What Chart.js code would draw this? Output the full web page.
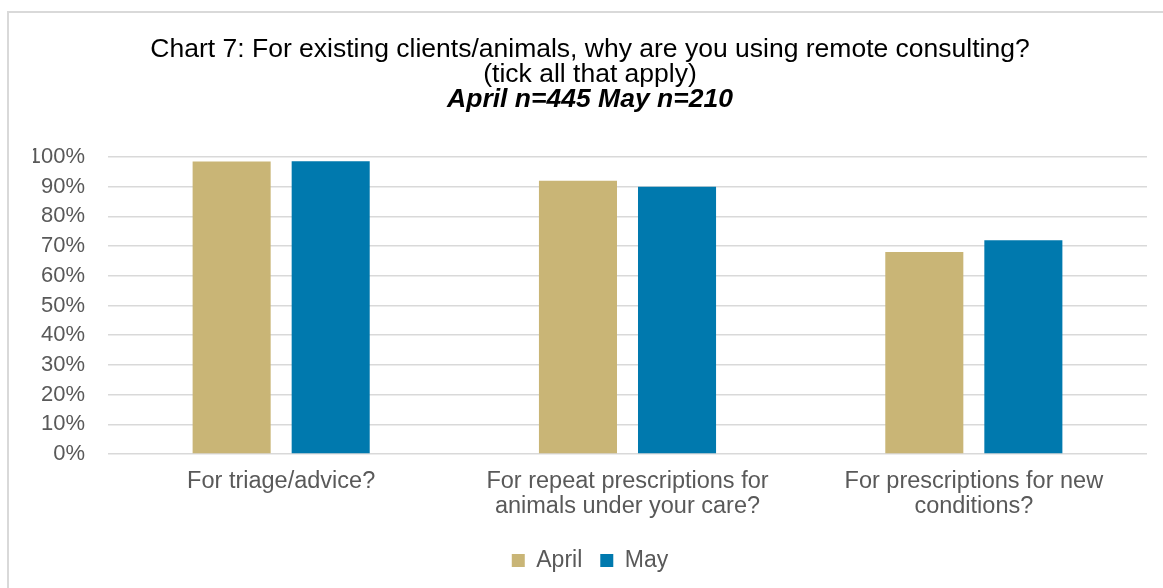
<!DOCTYPE html>
<html>
<head>
<meta charset="utf-8">
<title>Chart 7</title>
<script src="https://cdn.jsdelivr.net/npm/chart.js@4"></script>
<style>
  html, body { margin: 0; padding: 0; background: #fff; overflow: hidden; }
  #frame {
    position: absolute; left: 7px; top: 11px;
    width: 1180px; height: 600px;
    border: 2px solid #d9d9d9; box-sizing: border-box;
  }
  #wrap { position: absolute; left: 0; top: 0; width: 1163px; height: 588px; }
</style>
</head>
<body>
<div id="frame"></div>
<div id="wrap"><canvas id="chart7"></canvas></div>
<script>
const categories = [
  ["For triage/advice?"],
  ["For repeat prescriptions for", "animals under your care?"],
  ["For prescriptions for new", "conditions?"]
];
const aprilValues = [98.5, 92, 68];
const mayValues = [98.6, 90, 72];
const yTicks = [0, 10, 20, 30, 40, 50, 60, 70, 80, 90, 100];

const FONT = "'Liberation Sans', Arial, sans-serif";
const GREY_TEXT = "#595959";

new Chart(document.getElementById("chart7"), {
  type: "bar",
  data: {
    labels: categories,
    datasets: [
      {
        label: "April",
        data: aprilValues,
        backgroundColor: "#c9b576",
        categoryPercentage: 0.572,
        barPercentage: 0.788
      },
      {
        label: "May",
        data: mayValues,
        backgroundColor: "#0079ae",
        categoryPercentage: 0.572,
        barPercentage: 0.788
      }
    ]
  },
  options: {
    responsive: true,
    maintainAspectRatio: false,
    animation: false,
    layout: { padding: { left: 33, right: 16, top: 0, bottom: 6 } },
    plugins: {
      title: {
        display: true,
        text: [
          "Chart 7: For existing clients/animals, why are you using remote consulting?",
          "(tick all that apply)"
        ],
        color: "#000",
        font: { family: FONT, size: 26.5, weight: "normal", lineHeight: 0.943 },
        padding: { top: 37, bottom: 0 }
      },
      subtitle: {
        display: true,
        text: "April n=445 May n=210",
        color: "#000",
        font: { family: FONT, size: 26.5, weight: "bold", style: "italic", lineHeight: 0.943 },
        padding: { top: 0, bottom: 45 }
      },
      legend: {
        position: "bottom",
        labels: {
          color: GREY_TEXT,
          font: { family: FONT, size: 23 },
          boxWidth: 13,
          boxHeight: 13,
          padding: 18
        }
      },
      tooltip: { enabled: false }
    },
    scales: {
      x: {
        grid: { display: false },
        border: { display: false },
        ticks: {
          color: GREY_TEXT,
          font: { family: FONT, size: 23.5, lineHeight: 1.064 },
          padding: 7,
          maxRotation: 0,
          autoSkip: false
        },
        afterFit: (scale) => { scale.height = 77; }
      },
      y: {
        min: 0,
        max: 100,
        afterBuildTicks: (scale) => {
          scale.ticks = yTicks.map((value) => ({ value }));
        },
        grid: { color: "#d9d9d9", lineWidth: 1.5, drawTicks: false },
        border: { display: false },
        ticks: {
          color: GREY_TEXT,
          font: { family: FONT, size: 22 },
          padding: 23,
          callback: (value) => value + "%"
        },
        afterFit: (scale) => { scale.width = 75; }
      }
    }
  }
});
</script>
</body>
</html>
